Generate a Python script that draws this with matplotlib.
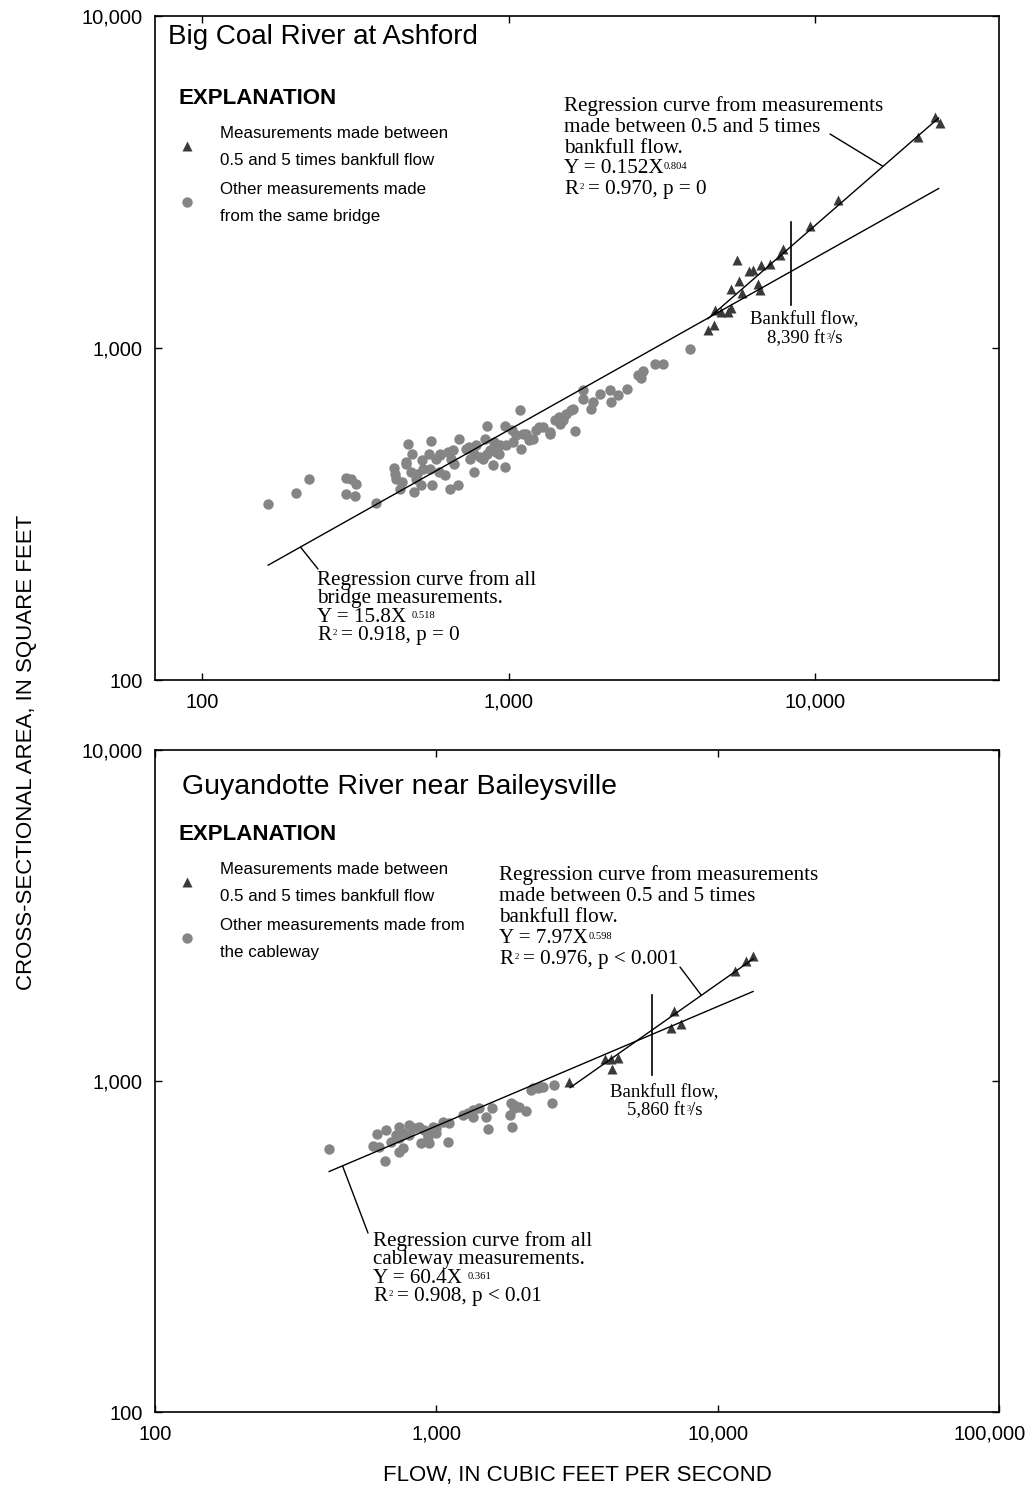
import numpy as np
import matplotlib.pyplot as plt
from matplotlib.lines import Line2D
from matplotlib.ticker import FixedLocator, NullLocator, FuncFormatter
from matplotlib.transforms import ScaledTranslation

plt.rcParams['font.family'] = ['Liberation Sans', 'DejaVu Sans']
SERIF = ['Liberation Serif', 'DejaVu Serif']

# Big Coal River at Ashford
top_other_x = [164, 202, 223, 295, 306, 318, 295, 316, 368, 424, 426, 430, 443, 469, 463, 485,
               481, 499, 522, 525, 519, 559, 552, 563, 580, 595, 618, 633, 649, 658, 642, 683,
               728, 746, 774, 784, 835, 852, 824, 889, 889, 912, 970, 977, 983, 1033, 1086,
               1100, 1113, 1200, 1231, 1294, 1369, 1413, 1468, 1505, 1544, 1622, 1643, 1749,
               1749, 1864, 1886, 1984, 2138, 2165, 2276, 2436, 2646, 2715, 2747, 2999, 3193,
               3904, 463, 595, 804, 867, 935, 1060, 1143, 1361, 1603, 743, 772, 851, 897, 931,
               663, 593, 550, 502, 449, 491, 689, 1026, 1260, 1462, 1167]
top_other_y = [340, 366, 403, 407, 404, 389, 363, 358, 341, 435, 418, 404, 375, 515, 448, 480,
               423, 404, 459, 433, 386, 524, 433, 386, 464, 480, 414, 486, 464, 492, 377, 388,
               498, 464, 423, 509, 533, 582, 464, 443, 498, 486, 439, 582, 509, 521, 652,
               498, 552, 533, 565, 578, 552, 606, 592, 606, 634, 657, 561, 746,
               704, 657, 688, 729, 746, 688, 720, 754, 828, 810, 851, 893, 897,
               991, 454, 475, 470, 492, 509, 546, 552, 558, 649, 504, 480, 480, 521, 480,
               447, 423, 480, 417, 394, 368, 532, 566, 578, 620, 528]
top_band_x = [24660, 25620, 21760, 11920, 9632, 7877, 7684, 7128, 6694, 6286, 6100, 5572,
              5644, 5343, 5803, 6525, 6610, 4738, 4957, 5210, 5343, 4480, 4677]
top_band_y = [4964, 4771, 4320, 2785, 2331, 1991, 1902, 1795, 1775, 1714, 1702, 1845,
              1588, 1509, 1468, 1562, 1492, 1299, 1284, 1284, 1323, 1131, 1171]
top_all_fit = (15.8, 0.518)
top_all_span = [164, 25400]
top_band_line_x = [4480, 25400]
top_band_line_y = [1225, 4930]
top_bankfull = 8390
top_bankfull_span = [1347, 2396]

# Guyandotte River near Baileysville
bot_other_x = [414, 613, 662, 597, 627, 658, 690, 719, 739, 759, 802, 835, 739, 759, 870, 907,
               882, 945, 931, 970, 998, 1053, 1113, 1103, 1241, 1293, 1347, 1422, 1503, 1578,
               1522, 1844, 1895, 1829, 1974, 2085, 1859, 2173, 2293, 2389, 2630, 2581,
               738, 802, 931, 998, 1347, 1895, 2203, 2328]
bot_other_y = [622, 690, 711, 636, 633, 574, 656, 687, 728, 695, 736, 720, 612, 626, 728, 711,
               649, 649, 679, 728, 695, 754, 748, 653, 790, 799, 817, 827, 780, 827,
               716, 860, 827, 790, 833, 814, 728, 939, 951, 961, 973, 860,
               671, 687, 687, 720, 780, 846, 951, 961]
bot_band_x = [13360, 12580, 11494, 6972, 6841, 7428, 3962, 4185, 4418, 4205, 2973]
bot_band_y = [2386, 2304, 2154, 1627, 1449, 1484, 1165, 1165, 1171, 1087, 995]
bot_all_fit = (60.4, 0.361)
bot_all_span = [416, 13360]
bot_band_fit = (7.97, 0.598)
bot_band_span = [2990, 13360]
bot_bankfull = 5860
bot_bankfull_span = [1043, 1820]

W, H = 1029, 1490
fig = plt.figure(figsize=(W / 100, H / 100), dpi=100)


def fx(px):
    return px / W


def fy(py):
    return 1 - py / H


ax1 = fig.add_axes([fx(155), fy(680), 844 / W, 664 / H])
ax2 = fig.add_axes([fx(155), fy(1412), 844 / W, 662 / H])

GRAY = '#858585'
DARK = '#3a3a3a'


def style(ax, xlim, xticks):
    ax.set_xscale('log')
    ax.set_yscale('log')
    ax.set_xlim(*xlim)
    ax.set_ylim(100, 10000)
    ax.xaxis.set_major_locator(FixedLocator(xticks))
    ax.yaxis.set_major_locator(FixedLocator([100, 1000, 10000]))
    ax.xaxis.set_minor_locator(NullLocator())
    ax.yaxis.set_minor_locator(NullLocator())
    fmt = FuncFormatter(lambda v, p: f'{v:,.0f}')
    ax.xaxis.set_major_formatter(fmt)
    ax.yaxis.set_major_formatter(fmt)
    ax.tick_params(direction='in', top=True, right=True, length=5, width=1,
                   labelsize=14.5, pad=9)
    for s in ax.spines.values():
        s.set_linewidth(1.2)


def power_line(fit, span):
    x = np.array(span, dtype=float)
    return x, fit[0] * x ** fit[1]


def on_line(xs, ys, x):
    return 10 ** np.interp(np.log10(x), np.log10(xs), np.log10(ys))


# top panel
style(ax1, (70, 40000), [100, 1000, 10000])
ax1.plot(top_other_x, top_other_y, 'o', ms=7.5, color=GRAY, mec='none', zorder=2)
ax1.plot(top_band_x, top_band_y, '^', ms=6.5, color=DARK, mec='none', zorder=3)
ta_x, ta_y = power_line(top_all_fit, top_all_span)
ax1.plot(ta_x, ta_y, color='black', lw=1, zorder=4)
ax1.plot(top_band_line_x, top_band_line_y, color='black', lw=1, zorder=4)
ax1.plot([top_bankfull, top_bankfull], top_bankfull_span, color='black', lw=1.2, zorder=4)

# bottom panel
style(ax2, (100, 100000), [100, 1000, 10000, 100000])
ax2.plot(bot_other_x, bot_other_y, 'o', ms=7.5, color=GRAY, mec='none', zorder=2)
ax2.plot(bot_band_x, bot_band_y, '^', ms=6.5, color=DARK, mec='none', zorder=3)
ba_x, ba_y = power_line(bot_all_fit, bot_all_span)
bb_x, bb_y = power_line(bot_band_fit, bot_band_span)
ax2.plot(ba_x, ba_y, color='black', lw=1, zorder=4)
ax2.plot(bb_x, bb_y, color='black', lw=1, zorder=4)
ax2.plot([bot_bankfull, bot_bankfull], bot_bankfull_span, color='black', lw=1.2, zorder=4)

# last x label hangs past the right spine instead of being cut at the edge
last = ax2.xaxis.get_major_ticks()[-1].label1
last.set_horizontalalignment('right')
last.set_transform(last.get_transform() + ScaledTranslation(0.27, 0, fig.dpi_scale_trans))


def leader(ax, x, xs, ys, px, py):
    ax.annotate('', xy=(x, on_line(xs, ys, x)), xycoords='data',
                xytext=(fx(px), fy(py)), textcoords='figure fraction',
                arrowprops=dict(arrowstyle='-', lw=1, color='black',
                                shrinkA=0, shrinkB=0))


leader(ax1, 16720, top_band_line_x, top_band_line_y, 830, 134)
leader(ax1, 209, ta_x, ta_y, 318, 569)
leader(ax2, 8750, bb_x, bb_y, 680, 967)
leader(ax2, 464, ba_x, ba_y, 368, 1233)


def sline(ax, px, py, s, sup=None, tail=None, size=15.2, gap=1.0, tail_gap=7, sup_scale=0.5):
    # one line of serif annotation text, with an optional small raised part and a tail
    t = fig.text(fx(px), fy(py), s, family=SERIF, fontsize=size, va='baseline')
    if sup:
        ax.annotate(sup, xy=(1, 1), xycoords=t, xytext=(gap, -2),
                    textcoords='offset points', family=SERIF,
                    fontsize=size * sup_scale, va='top', ha='left',
                    annotation_clip=False, clip_on=False)
    if tail:
        ax.annotate(tail, xy=(1, 0), xycoords=t, xytext=(tail_gap, 0),
                    textcoords='offset points', family=SERIF, fontsize=size,
                    va='bottom', ha='left', annotation_clip=False, clip_on=False)
    return t


def legend_block(py, lines_a, lines_b):
    fig.text(fx(178), fy(py), 'EXPLANATION', fontsize=16, fontweight='bold', va='baseline')
    fig.add_artist(Line2D([fx(187)], [fy(py + 42)], marker='^', ms=6.5, color=DARK,
                          mec='none', linestyle='none', transform=fig.transFigure))
    fig.add_artist(Line2D([fx(187)], [fy(py + 98)], marker='o', ms=7.5, color=GRAY,
                          mec='none', linestyle='none', transform=fig.transFigure))
    for i, s in enumerate(lines_a):
        fig.text(fx(220), fy(py + 34 + 27 * i), s, fontsize=12.2, va='baseline')
    for i, s in enumerate(lines_b):
        fig.text(fx(220), fy(py + 90 + 27 * i), s, fontsize=12.2, va='baseline')


# top panel texts
fig.text(fx(168), fy(44), 'Big Coal River at Ashford', fontsize=20, va='baseline')
legend_block(104, ['Measurements made between', '0.5 and 5 times bankfull flow'],
             ['Other measurements made', 'from the same bridge'])
sline(ax1, 564, 111, 'Regression curve from measurements')
sline(ax1, 564, 132, 'made between 0.5 and 5 times')
sline(ax1, 564, 153, 'bankfull flow.')
sline(ax1, 564, 173, 'Y = 0.152X', sup='0.804', gap=0.3)
sline(ax1, 564, 194, 'R', sup='2', tail='= 0.970, p = 0', sup_scale=0.42)
sline(ax1, 750, 324, 'Bankfull flow,', size=13.5)
sline(ax1, 767, 343, '8,390 ft', sup='3', tail='/s', size=13.5, sup_scale=0.45, tail_gap=3.5)
sline(ax1, 317, 585, 'Regression curve from all')
sline(ax1, 317, 603, 'bridge measurements.')
sline(ax1, 317, 622, 'Y = 15.8X', sup='0.518', gap=4)
sline(ax1, 317, 640, 'R', sup='2', tail='= 0.918, p = 0', sup_scale=0.42)

# bottom panel texts
fig.text(fx(182), fy(794), 'Guyandotte River near Baileysville', fontsize=20.5, va='baseline')
legend_block(840, ['Measurements made between', '0.5 and 5 times bankfull flow'],
             ['Other measurements made from', 'the cableway'])
sline(ax2, 499, 880, 'Regression curve from measurements')
sline(ax2, 499, 901, 'made between 0.5 and 5 times')
sline(ax2, 499, 922, 'bankfull flow.')
sline(ax2, 499, 943, 'Y = 7.97X', sup='0.598', gap=0.3)
sline(ax2, 499, 964, 'R', sup='2', tail='= 0.976, p < 0.001', sup_scale=0.42)
sline(ax2, 610, 1097, 'Bankfull flow,', size=13.5)
sline(ax2, 627, 1115, '5,860 ft', sup='3', tail='/s', size=13.5, sup_scale=0.45, tail_gap=3.5)
sline(ax2, 373, 1246, 'Regression curve from all')
sline(ax2, 373, 1264, 'cableway measurements.')
sline(ax2, 373, 1283, 'Y = 60.4X', sup='0.361', gap=4)
sline(ax2, 373, 1301, 'R', sup='2', tail='= 0.908, p < 0.01', sup_scale=0.42)

fig.text(fx(27), fy(752), 'CROSS-SECTIONAL AREA, IN SQUARE FEET', fontsize=16,
         rotation=90, ha='center', va='center')
fig.text(fx(577), fy(1476), 'FLOW, IN CUBIC FEET PER SECOND', fontsize=16,
         ha='center', va='center')

fig.savefig('out.png', dpi=100)
